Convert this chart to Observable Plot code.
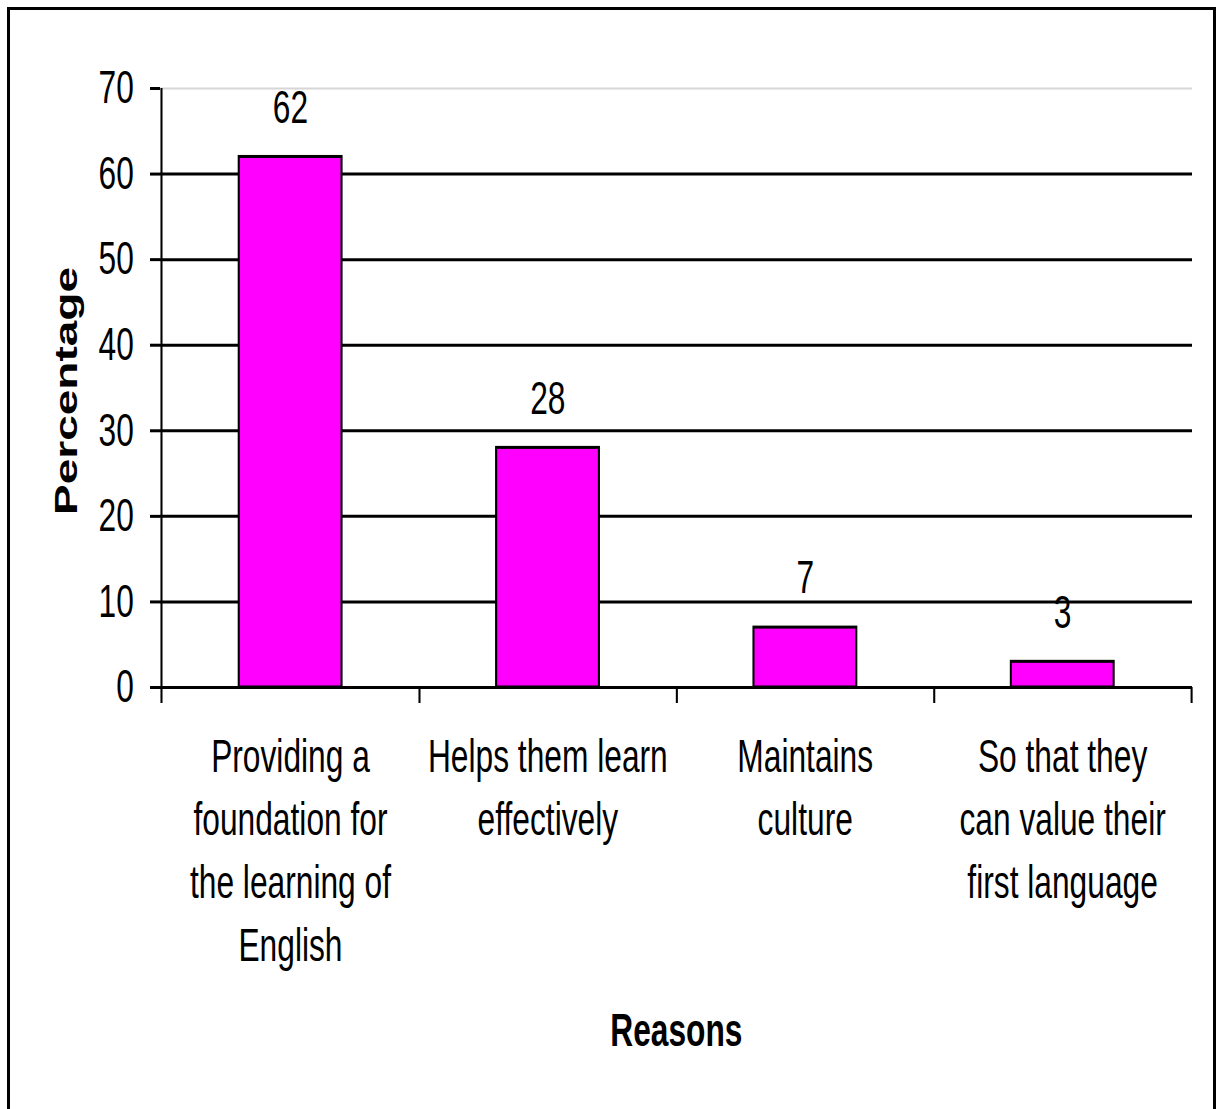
<!DOCTYPE html>
<html><head><meta charset="utf-8">
<script src="https://cdn.jsdelivr.net/npm/d3@7"></script>
<script src="https://cdn.jsdelivr.net/npm/@observablehq/plot@0.6"></script>
<style>
html,body{margin:0;padding:0;background:#fff;}
#wrap{position:relative;width:1220px;height:1109px;overflow:hidden;background:#fff;}
#frame{position:absolute;left:7px;top:7px;width:1203px;height:1200px;border:3px solid #000;pointer-events:none;}
#chart{position:absolute;left:0;top:0;}
</style></head><body>
<div id="wrap"><div id="chart"></div><div id="frame"></div></div>
<script>
// ---- data ----
const categories = [
  "Providing a foundation for the learning of English",
  "Helps them learn effectively",
  "Maintains culture",
  "So that they can value their first language"
];
const tickLabels = [
  "Providing a\nfoundation for\nthe learning of\nEnglish",
  "Helps them learn\neffectively",
  "Maintains\nculture",
  "So that they\ncan value their\nfirst language"
];
const values = [62, 28, 7, 3];
const yTicks = [0, 10, 20, 30, 40, 50, 60, 70];
const yLabel = "Percentage";
const xLabel = "Reasons";

// ---- layout ----
const sx = 0.69;              // horizontal compression of the whole picture
const W = 1220 / sx;          // internal width
const H = 1109;
const mL = 160 / sx, mR = W - 1192 / sx, mT = 88, mB = H - 687;
const cell = (W - mL - mR) / categories.length;
const yMax = 70;
const pxPerUnit = (687 - 88) / yMax;
const tickUnits = 16 / pxPerUnit;
const font = "'Liberation Sans', Arial, Helvetica, sans-serif";

const data = categories.map((c, i) => ({category: c, value: values[i], label: tickLabels[i]}));

const chart = Plot.plot({
  width: W, height: H,
  marginLeft: mL, marginRight: mR, marginTop: mT, marginBottom: mB,
  style: {fontFamily: font, fontSize: "46px", color: "#000", background: "transparent"},
  x: {domain: categories, paddingInner: 0.6, paddingOuter: 0.3, axis: null, label: null},
  y: {domain: [0, yMax], axis: null, label: null},
  marks: [
    Plot.ruleY(yTicks.filter(d => d > 0 && d < yMax), {y: d => d, stroke: "#000", strokeWidth: 3}),
    Plot.ruleY([yMax], {y: d => d, stroke: "#d6d6d6", strokeWidth: 2}),
    Plot.barY(data, {x: "category", y: "value", fill: "#FF00FF", stroke: "#000", strokeWidth: 3}),
    Plot.ruleY([0], {y: d => d, stroke: "#000", strokeWidth: 3}),
    Plot.ruleX([categories[0]], {x: d => d, dx: -cell / 2, y1: -tickUnits, y2: yMax, stroke: "#000", strokeWidth: 3}),
    Plot.ruleX(categories, {x: d => d, dx: cell / 2, y1: -tickUnits, y2: 0, stroke: "#000", strokeWidth: 3}),
    Plot.axisY({ticks: yTicks, tickSize: 10 / sx, tickPadding: 24, strokeWidth: 3, fontSize: 46, label: null, tickFormat: d => String(d)}),
    Plot.text(data, {x: "category", y: "value", text: d => String(d.value), dy: -49, fontSize: 46, lineAnchor: "middle", textAnchor: "middle"}),
    Plot.text(data, {x: "category", text: "label", frameAnchor: "bottom", dy: 40, lineAnchor: "top", textAnchor: "middle", lineHeight: 1.37, fontSize: 46}),
    Plot.text([xLabel], {text: d => d, frameAnchor: "bottom", dy: 344, lineAnchor: "middle", textAnchor: "middle", fontSize: 46, fontWeight: "bold"}),
    Plot.text([yLabel], {text: d => d, frameAnchor: "left", dx: 66 / sx - mL, dy: 3, rotate: -90, lineAnchor: "middle", textAnchor: "middle", fontSize: 46, fontWeight: "bold"})
  ]
});
chart.setAttribute("preserveAspectRatio", "none");
chart.setAttribute("width", 1220);
chart.setAttribute("height", H);
chart.style.width = "1220px";
chart.style.height = H + "px";
chart.style.maxWidth = "none";
document.getElementById("chart").appendChild(chart);
</script>
</body></html>
